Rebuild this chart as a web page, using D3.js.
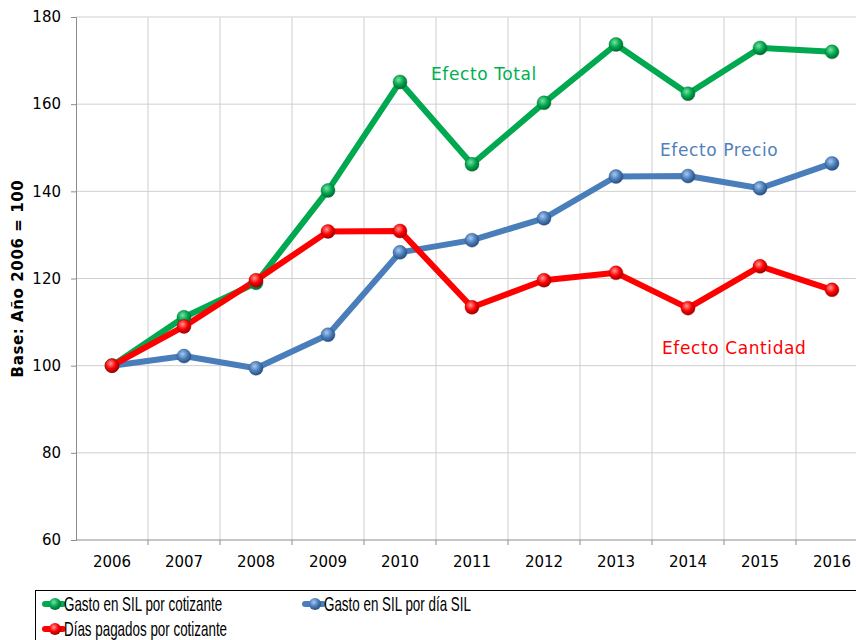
<!DOCTYPE html>
<html>
<head>
<meta charset="utf-8">
<script src="https://cdn.jsdelivr.net/npm/d3@7"></script>
<style>
  body { margin: 0; background: #fff; }
  svg { display: block; }
</style>
</head>
<body>
<div id="svg-area"></div>
<script>
// data
var years = ["2006", "2007", "2008", "2009", "2010", "2011", "2012", "2013", "2014", "2015", "2016"];
var gastoCotizante = [100, 111.1, 119.0, 140.2, 165.1, 146.2, 160.3, 173.7, 162.4, 172.9, 172.0];
var gastoDia = [100, 102.2, 99.4, 107.1, 126.0, 128.8, 133.8, 143.4, 143.5, 140.7, 146.4];
var diasPagados = [100, 109.0, 119.6, 130.8, 130.9, 113.4, 119.6, 121.3, 113.2, 122.8, 117.4];
var yTicks = [60, 80, 100, 120, 140, 160, 180];

var series = [
  { name: "Gasto en SIL por cotizante", values: gastoCotizante, color: "#00a84f", light: "#7de0a6", dark: "#006b30", id: "g" },
  { name: "Gasto en SIL por día SIL", values: gastoDia, color: "#4a7ebb", light: "#a9c8ee", dark: "#2a4f80", id: "b" },
  { name: "Días pagados por cotizante", values: diasPagados, color: "#ff0000", light: "#ff9a9a", dark: "#a00000", id: "r" }
];

var svgWidth = 856;
var svgHeight = 640;
var font = "DejaVu Sans, Verdana, sans-serif";

var chartMargin = { top: 17, left: 76 };
var chartWidth = 792;   // runs past the right edge like the original
var chartHeight = 523;

var svg = d3.select("#svg-area")
  .append("svg")
  .attr("width", svgWidth)
  .attr("height", svgHeight);

// sphere gradients for markers
var defs = svg.append("defs");
series.forEach(function(s) {
  var grad = defs.append("radialGradient")
    .attr("id", "ball-" + s.id)
    .attr("cx", "40%").attr("cy", "35%").attr("r", "65%");
  grad.append("stop").attr("offset", "0%").attr("stop-color", s.light);
  grad.append("stop").attr("offset", "55%").attr("stop-color", s.color);
  grad.append("stop").attr("offset", "100%").attr("stop-color", s.dark);
});

var chartGroup = svg.append("g")
  .attr("transform", `translate(${chartMargin.left}, ${chartMargin.top})`);

var xBandScale = d3.scaleBand()
  .domain(years)
  .range([0, chartWidth]);

var yLinearScale = d3.scaleLinear()
  .domain([60, 180])
  .range([chartHeight, 0]);

// gridlines
chartGroup.append("g")
  .selectAll("line")
  .data(yTicks.slice(1))
  .enter()
  .append("line")
  .attr("x1", 0)
  .attr("x2", chartWidth)
  .attr("y1", d => yLinearScale(d))
  .attr("y2", d => yLinearScale(d))
  .attr("stroke", "#cfcfcf")
  .attr("stroke-width", 1);

chartGroup.append("g")
  .selectAll("line")
  .data(years.slice(1))
  .enter()
  .append("line")
  .attr("x1", d => xBandScale(d))
  .attr("x2", d => xBandScale(d))
  .attr("y1", 0)
  .attr("y2", chartHeight)
  .attr("stroke", "#cfcfcf")
  .attr("stroke-width", 1);

// axes
var leftAxis = d3.axisLeft(yLinearScale).tickValues(yTicks).tickSize(5).tickPadding(10);
var bottomAxis = d3.axisBottom(xBandScale).tickSize(0).tickPadding(16);

var yAxisG = chartGroup.append("g").call(leftAxis);
yAxisG.select(".domain").attr("stroke", "#8c8c8c");
yAxisG.selectAll(".tick line").attr("stroke", "#8c8c8c");
yAxisG.selectAll("text")
  .attr("font-family", font)
  .attr("font-size", 15)
  .attr("fill", "#000");

var xAxisG = chartGroup.append("g")
  .attr("transform", `translate(0, ${chartHeight})`)
  .call(bottomAxis);
xAxisG.select(".domain").attr("stroke", "#8c8c8c").attr("d", `M0,0H${chartWidth}`);
xAxisG.selectAll("text")
  .attr("font-family", font)
  .attr("font-size", 15)
  .attr("fill", "#000");

// boundary ticks on x axis
xAxisG.selectAll(".bound")
  .data(years.slice(1))
  .enter()
  .append("line")
  .attr("x1", d => xBandScale(d))
  .attr("x2", d => xBandScale(d))
  .attr("y1", 0)
  .attr("y2", 5)
  .attr("stroke", "#8c8c8c");

// y title
svg.append("text")
  .attr("transform", `translate(23, ${chartMargin.top + chartHeight / 2}) rotate(-90)`)
  .attr("text-anchor", "middle")
  .attr("font-family", font)
  .attr("font-size", 15)
  .attr("font-weight", "bold")
  .attr("letter-spacing", 0.6)
  .text("Base: Año 2006 = 100");

// lines
var line = d3.line()
  .x((d, i) => xBandScale(years[i]) + xBandScale.bandwidth() / 2)
  .y(d => yLinearScale(d));

// draw blue first, then green, red on top
var order = [series[1], series[0], series[2]];
order.forEach(function(s) {
  chartGroup.append("path")
    .datum(s.values)
    .attr("fill", "none")
    .attr("stroke", s.color)
    .attr("stroke-width", 6)
    .attr("stroke-linejoin", "round")
    .attr("d", line);
});
order.forEach(function(s) {
  chartGroup.append("g")
    .selectAll("circle")
    .data(s.values)
    .enter()
    .append("circle")
    .attr("cx", (d, i) => xBandScale(years[i]) + xBandScale.bandwidth() / 2)
    .attr("cy", d => yLinearScale(d))
    .attr("r", 7)
    .attr("fill", "url(#ball-" + s.id + ")")
    .attr("stroke", s.dark)
    .attr("stroke-opacity", 0.5)
    .attr("stroke-width", 0.8);
});

// annotations
var notes = [
  { text: "Efecto Total", x: 431, y: 80, color: "#00b050" },
  { text: "Efecto Precio", x: 660, y: 156, color: "#4f81bd" },
  { text: "Efecto Cantidad", x: 662, y: 354, color: "#ff0000" }
];
svg.selectAll(".note")
  .data(notes)
  .enter()
  .append("text")
  .attr("x", d => d.x)
  .attr("y", d => d.y)
  .attr("fill", d => d.color)
  .attr("font-family", font)
  .attr("font-size", 17)
  .attr("letter-spacing", 0.6)
  .text(d => d.text);

// legend box
svg.append("rect")
  .attr("x", 35.5)
  .attr("y", 590.5)
  .attr("width", 840)
  .attr("height", 80)
  .attr("fill", "#fff")
  .attr("stroke", "#000")
  .attr("stroke-width", 1);

var legendPos = [
  { x: 45, y: 604 },
  { x: 305, y: 604 },
  { x: 45, y: 629 }
];
var legend = svg.selectAll(".legend")
  .data(series)
  .enter()
  .append("g")
  .attr("transform", (d, i) => `translate(${legendPos[i].x}, ${legendPos[i].y})`);

legend.append("line")
  .attr("x1", 0).attr("x2", 18)
  .attr("y1", 0).attr("y2", 0)
  .attr("stroke", d => d.color)
  .attr("stroke-width", 6)
  .attr("stroke-linecap", "round");
legend.append("circle")
  .attr("cx", 10).attr("cy", 0).attr("r", 6)
  .attr("fill", d => "url(#ball-" + d.id + ")");
// narrow legend font, squeezed horizontally
legend.append("text")
  .attr("transform", "translate(19, 7) scale(0.67, 1)")
  .attr("font-family", "Liberation Sans, Arial, sans-serif")
  .attr("font-size", 20)
  .attr("fill", "#000")
  .text(d => d.name);
</script>
</body>
</html>
